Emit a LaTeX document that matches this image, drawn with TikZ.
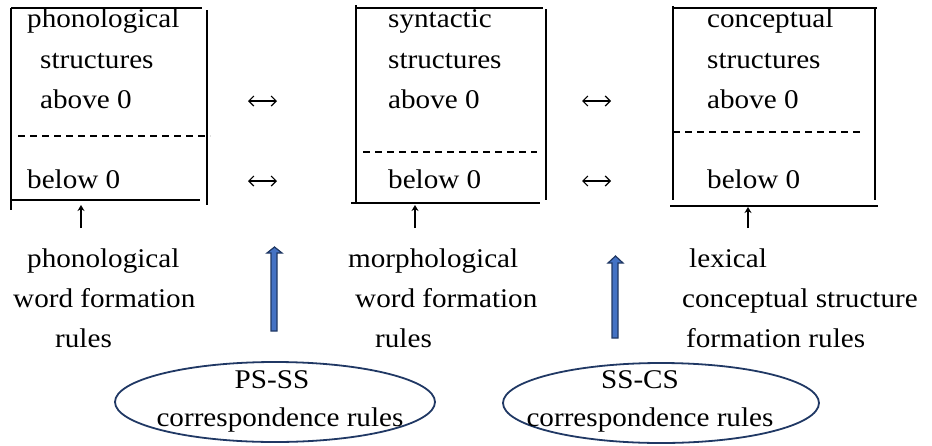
\documentclass[tikz,border=0pt]{standalone}
\usepackage{fontspec}
\setmainfont{Liberation Serif}[FakeStretch=1.08]
\usetikzlibrary{shapes.geometric,arrows.meta}
\definecolor{navy}{HTML}{203864}
\definecolor{arrowblue}{HTML}{4472C4}
\tikzset{
  txt/.style={anchor=base west, inner sep=0pt, font=\fontsize{27}{30}\selectfont},
  ctxt/.style={anchor=center, inner sep=0pt, font=\fontsize{27}{30}\selectfont},
  boxline/.style={line width=1.5pt, black},
  dashline/.style={line width=1.2pt, black, dash pattern=on 7pt off 5pt},
  oval/.style={ellipse, draw=navy, line width=1.8pt, inner sep=0pt},
  blockarrow/.style={fill=arrowblue, draw=navy, line width=1.2pt, line join=miter},
  dblarrow/.style={line width=1.2pt, {Straight Barb[length=5pt,width=10pt]}-{Straight Barb[length=5pt,width=10pt]}},
  uparrow/.style={line width=1.3pt, -{Stealth[length=6pt,width=7pt]}}
}
\begin{document}
\begin{tikzpicture}[x=1pt,y=-1pt]
\useasboundingbox (0,0) rectangle (932,445);
% Box 1
\draw[boxline] (11,8) -- (11,210);
\draw[boxline] (11,8) -- (202,8);
\draw[boxline] (207,10) -- (207,205);
\draw[boxline] (11,200) -- (200,200);
\draw[dashline] (18,136) -- (210,136);
% Box 2
\draw[boxline] (356,5) -- (356,204);
\draw[boxline] (356,8) -- (543,8);
\draw[boxline] (546,9) -- (546,200);
\draw[boxline] (351,203) -- (540,203);
\draw[dashline] (363,152) -- (537,152);
% Box 3
\draw[boxline] (673,6) -- (673,200);
\draw[boxline] (673,8) -- (877,8);
\draw[boxline] (875,8) -- (875,200);
\draw[boxline] (670,206) -- (878,206);
\draw[dashline] (673,132) -- (861,132);
% Box texts
\node[txt] (p1) at (27,27) {phonological};
\node[txt] (p2) at (40,68) {structures};
\node[txt] (p3) at (40,108) {above 0};
\node[txt] (p4) at (27,188) {below 0};
\node[txt] (s1) at (388,27) {syntactic};
\node[txt] (s2) at (388,68) {structures};
\node[txt] (s3) at (388,108) {above 0};
\node[txt] (s4) at (388,188) {below 0};
\node[txt] (c1) at (707,27) {conceptual};
\node[txt] (c2) at (707,68) {structures};
\node[txt] (c3) at (707,108) {above 0};
\node[txt] (c4) at (707,188) {below 0};
% double arrows
\coordinate (a1l) at (248,101); \coordinate (a1r) at (277,101);
\coordinate (a2l) at (248,181); \coordinate (a2r) at (277,181);
\coordinate (a3l) at (582,101); \coordinate (a3r) at (611,101);
\coordinate (a4l) at (582,181); \coordinate (a4r) at (611,181);
\draw[dblarrow] (a1l) -- (a1r);
\draw[dblarrow] (a2l) -- (a2r);
\draw[dblarrow] (a3l) -- (a3r);
\draw[dblarrow] (a4l) -- (a4r);
% small up arrows
\coordinate (u1b) at (81,228); \coordinate (u1t) at (81,205);
\coordinate (u2b) at (415,228); \coordinate (u2t) at (415,205);
\coordinate (u3b) at (748,228); \coordinate (u3t) at (748,207);
\draw[uparrow] (u1b) -- (u1t);
\draw[uparrow] (u2b) -- (u2t);
\draw[uparrow] (u3b) -- (u3t);
% lower texts
\node[txt] (l1) at (27,267) {phonological};
\node[txt] (l2) at (13,307) {word formation};
\node[txt] (l3) at (55,347) {rules};
\node[txt] (m1) at (348,267) {morphological};
\node[txt] (m2) at (355,307) {word formation};
\node[txt] (m3) at (375,347) {rules};
\node[txt] (x1) at (689,267) {lexical};
\node[txt] (x2) at (682,307) {conceptual structure};
\node[txt] (x3) at (686,347) {formation rules};
% block arrows
\draw[blockarrow] (271,331) -- (271,253) -- (267,253) -- (274.5,247) -- (282,253) -- (277,253) -- (277,331) -- cycle;
\draw[blockarrow] (612,338) -- (612,263) -- (608,263) -- (615.5,256) -- (623,263) -- (618,263) -- (618,338) -- cycle;
% ellipses
\node[oval, minimum width=320pt, minimum height=80pt] (e1) at (275,402) {};
\node[oval, minimum width=316pt, minimum height=80pt] (e2) at (661,403) {};
\node[ctxt] (e1a) at (272,380) {PS-SS};
\node[ctxt] (e1b) at (280,420) {correspondence rules};
\node[ctxt] (e2a) at (640,380) {SS-CS};
\node[ctxt] (e2b) at (650,420) {correspondence rules};
\end{tikzpicture}
\end{document}
